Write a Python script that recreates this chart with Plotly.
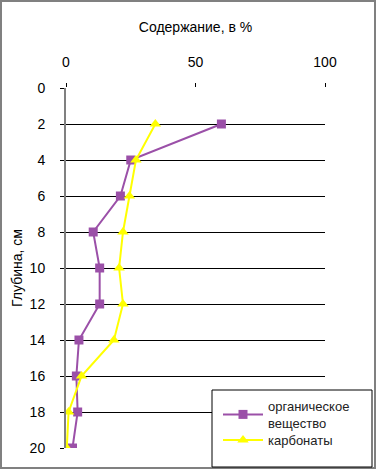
import plotly.graph_objects as go

depth = [2, 4, 6, 8, 10, 12, 14, 16, 18, 20]
organic = [60, 25, 21, 10.5, 13, 13, 5, 4, 4.5, 2.5]
carbonates = [34.5, 27, 24.5, 22, 20.5, 22, 18.5, 6, 1, 0.3]
x_ticks = [0, 50, 100]
y_ticks = [0, 2, 4, 6, 8, 10, 12, 14, 16, 18, 20]

W, H = 377, 469
L, R, T, B = 66, 52, 88, 21
pw, ph = W - L - R, H - T - B

def px(x):
    return (x - L) / pw

def py(y):
    return 1 - (y - T) / ph

FONT = "Liberation Sans, Arial, sans-serif"

fig = go.Figure()
fig.add_trace(go.Scatter(
    x=organic, y=depth, mode="lines+markers", name="органическое<br>вещество",
    line=dict(color="#9B50A8", width=2),
    marker=dict(symbol="square", size=9, color="#9B50A8"),
    legend="legend",
))
fig.add_trace(go.Scatter(
    x=carbonates, y=depth, mode="lines+markers", name="карбонаты",
    line=dict(color="#FFFF00", width=2),
    marker=dict(symbol="triangle-up", size=10, color="#FFFF00"),
    legend="legend2",
))

leg_common = dict(
    xanchor="left", yanchor="top",
    borderwidth=0, bgcolor="rgba(0,0,0,0)",
    font=dict(size=13, color="#222"),
    itemwidth=40, tracegroupgap=0,
)

fig.update_layout(
    width=W, height=H,
    margin=dict(l=L, r=R, t=T, b=B, pad=0),
    paper_bgcolor="white", plot_bgcolor="white",
    font=dict(family=FONT, color="black", size=14),
    showlegend=True,
    legend=dict(x=px(218), y=py(391), **leg_common),
    legend2=dict(x=px(218), y=py(425), **leg_common),
    xaxis=dict(
        side="top", range=[0, 100], tickvals=x_ticks, automargin=False,
        showgrid=False, zeroline=False, showline=False,
        ticks="outside", ticklen=4, tickcolor="black",
        tickfont=dict(size=14), ticklabelstandoff=10,
        title=dict(text="Содержание, в %", font=dict(size=14), standoff=18),
        fixedrange=True,
    ),
    yaxis=dict(
        range=[20, 0], tickvals=y_ticks, automargin=False,
        showgrid=True, gridcolor="black", gridwidth=1,
        zeroline=False, showline=True, linecolor="#808080", linewidth=2,
        ticks="outside", ticklen=4, tickcolor="black",
        tickfont=dict(size=14), ticklabelstandoff=12,
        title=dict(text="Глубина, см", font=dict(size=14), standoff=4),
        fixedrange=True,
    ),
    shapes=[
        dict(type="rect", xref="paper", yref="paper",
             x0=px(1), x1=px(375), y0=py(468), y1=py(1),
             line=dict(color="#808080", width=2), fillcolor="rgba(0,0,0,0)"),
        dict(type="rect", xref="paper", yref="paper", layer="above",
             x0=px(212), x1=px(372), y0=py(467), y1=py(390),
             line=dict(color="black", width=1), fillcolor="white"),
    ],
)

fig.write_html("out.html", config={"displayModeBar": False},
               post_script="document.body.style.margin='0';")
